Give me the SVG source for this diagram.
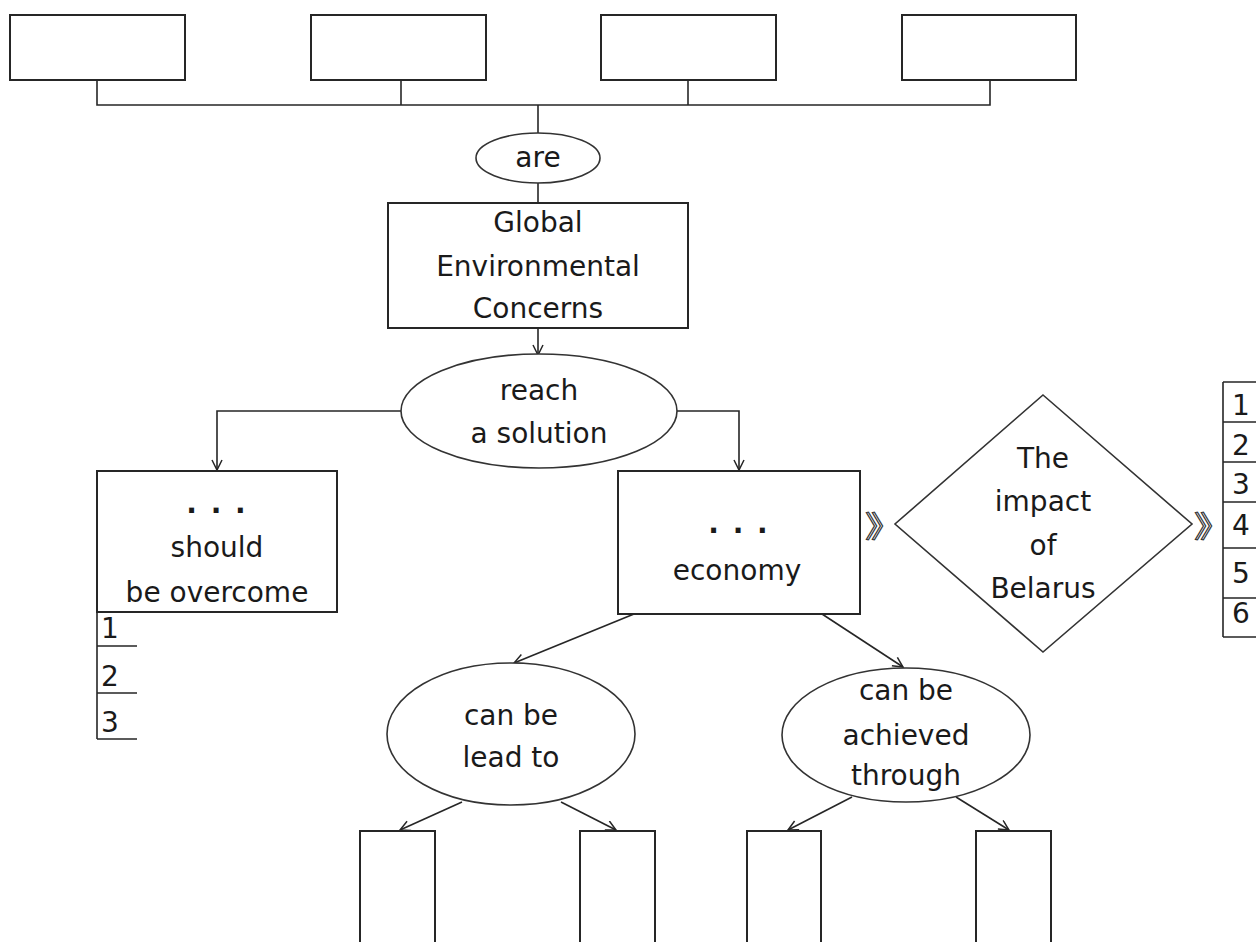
<svg xmlns="http://www.w3.org/2000/svg" width="1256" height="942" viewBox="0 0 1256 942">
<style>
.box{fill:#fff;stroke:#262626;stroke-width:2}
.ell{fill:#fff;stroke:#333;stroke-width:1.6}
.ln{fill:none;stroke:#262626;stroke-width:1.6}
.t{font-family:"DejaVu Sans","Liberation Sans",sans-serif;font-size:28px;fill:#1a1a1a;text-anchor:middle}
.d{font-family:"DejaVu Sans","Liberation Sans",sans-serif;font-size:28px;font-weight:bold;fill:#1a1a1a;text-anchor:middle}
.n{font-family:"DejaVu Sans","Liberation Sans",sans-serif;font-size:28px;fill:#1a1a1a}
.ch{font-family:"Noto Sans CJK SC",sans-serif;font-size:30px;fill:#fff;stroke:#333;stroke-width:1}
</style>
<defs>
<marker id="ah" markerUnits="userSpaceOnUse" markerWidth="13" markerHeight="13" refX="11" refY="5.5" orient="auto">
<path d="M1,0.5 L11,5.5 L1,10.5" fill="none" stroke="#262626" stroke-width="1.5"/>
</marker>
</defs>
<rect width="1256" height="942" fill="#fff"/>
<g id="connectors">
<path class="ln" d="M97,80 V105 H990 V80"/>
<path class="ln" d="M401,80 V105"/>
<path class="ln" d="M688,80 V105"/>
<path class="ln" d="M538,105 V133"/>
<path class="ln" d="M538,183 V203"/>
<path class="ln" d="M538,328 V355" marker-end="url(#ah)"/>
<path class="ln" d="M401,411 H217 V470" marker-end="url(#ah)"/>
<path class="ln" d="M677,411 H739 V470" marker-end="url(#ah)"/>
<path class="ln" d="M634,614 L514,663" marker-end="url(#ah)"/>
<path class="ln" d="M822,614 L903,667" marker-end="url(#ah)"/>
<path class="ln" d="M462,802 L400,830" marker-end="url(#ah)"/>
<path class="ln" d="M561,802 L616,830" marker-end="url(#ah)"/>
<path class="ln" d="M852,797 L788,830" marker-end="url(#ah)"/>
<path class="ln" d="M956,797 L1009,830" marker-end="url(#ah)"/>
</g>
<g id="top1"><rect class="box" x="10" y="15" width="175" height="65"/></g>
<g id="top2"><rect class="box" x="311" y="15" width="175" height="65"/></g>
<g id="top3"><rect class="box" x="601" y="15" width="175" height="65"/></g>
<g id="top4"><rect class="box" x="902" y="15" width="174" height="65"/></g>
<g id="are"><ellipse class="ell" cx="538" cy="158" rx="62" ry="25"/><text class="t" x="538" y="167">are</text></g>
<g id="gec"><rect class="box" x="388" y="203" width="300" height="125"/>
<text class="t" x="538" y="232">Global</text>
<text class="t" x="538" y="276">Environmental</text>
<text class="t" x="538" y="318">Concerns</text></g>
<g id="reach"><ellipse class="ell" cx="539" cy="411" rx="138" ry="57"/>
<text class="t" x="539" y="400">reach</text>
<text class="t" x="539" y="443">a solution</text></g>
<g id="overcome"><rect class="box" x="97" y="471" width="240" height="141"/>
<text class="d" x="217" y="513" letter-spacing="2">. . .</text>
<text class="t" x="217" y="557">should</text>
<text class="t" x="217" y="602">be overcome</text></g>
<g id="list-left">
<path class="ln" d="M97,612 V739 M97,646 H137 M97,693 H137 M97,739 H137"/>
<text class="n" x="101" y="638">1</text>
<text class="n" x="101" y="686">2</text>
<text class="n" x="101" y="732">3</text></g>
<g id="economy"><rect class="box" x="618" y="471" width="242" height="143"/>
<text class="d" x="739" y="533" letter-spacing="2">. . .</text>
<text class="t" x="737" y="580">economy</text></g>
<g id="chev1"><text class="ch" transform="translate(865,537) scale(1.25,1)">》</text></g>
<g id="impact"><polygon points="1043,395 1192,524 1043,652 895,524" fill="#fff" stroke="#333" stroke-width="1.6"/>
<text class="t" x="1043" y="468">The</text>
<text class="t" x="1043" y="511">impact</text>
<text class="t" x="1043" y="555">of</text>
<text class="t" x="1043" y="598">Belarus</text></g>
<g id="chev2"><text class="ch" transform="translate(1194,537) scale(1.25,1)">》</text></g>
<g id="list-right">
<path class="ln" d="M1223,382 V637 M1223,382 H1256 M1223,422 H1256 M1223,462 H1256 M1223,502 H1256 M1223,548 H1256 M1223,598 H1256 M1223,637 H1256"/>
<text class="n" x="1232" y="415">1</text>
<text class="n" x="1232" y="455">2</text>
<text class="n" x="1232" y="494">3</text>
<text class="n" x="1232" y="535">4</text>
<text class="n" x="1232" y="583">5</text>
<text class="n" x="1232" y="623">6</text></g>
<g id="leadto"><ellipse class="ell" cx="511" cy="734" rx="124" ry="71"/>
<text class="t" x="511" y="725">can be</text>
<text class="t" x="511" y="767">lead to</text></g>
<g id="achieved"><ellipse class="ell" cx="906" cy="735" rx="124" ry="67"/>
<text class="t" x="906" y="700">can be</text>
<text class="t" x="906" y="745">achieved</text>
<text class="t" x="906" y="785">through</text></g>
<g id="b1"><rect class="box" x="360" y="831" width="75" height="130"/></g>
<g id="b2"><rect class="box" x="580" y="831" width="75" height="130"/></g>
<g id="b3"><rect class="box" x="747" y="831" width="74" height="130"/></g>
<g id="b4"><rect class="box" x="976" y="831" width="75" height="130"/></g>
</svg>
